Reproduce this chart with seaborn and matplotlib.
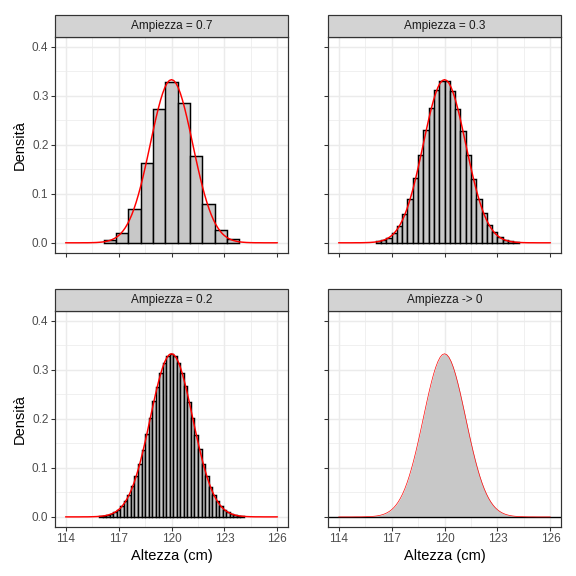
import numpy as np
import matplotlib
matplotlib.use('Agg')
import matplotlib.pyplot as plt
from matplotlib.patches import Rectangle
from matplotlib.ticker import MultipleLocator, FormatStrFormatter
import seaborn as sns

# valori
titles = ['Ampiezza = 0.7', 'Ampiezza = 0.3', 'Ampiezza = 0.2', 'Ampiezza -> 0']
x_ticks = [114, 117, 120, 123, 126]
y_ticks = [0.0, 0.1, 0.2, 0.3, 0.4]

# istogramma, ampiezza 0.7 (centri da 116.5)
w07 = 0.7
first07 = 116.5
h07 = [0.0055, 0.020, 0.068, 0.163, 0.273, 0.328, 0.284, 0.177, 0.080, 0.027, 0.007]

# ampiezza 0.3 (centri da 116.25)
w03 = 0.3
first03 = 116.25
h03 = [0.003, 0.005, 0.010, 0.020, 0.035, 0.058, 0.090, 0.132, 0.178, 0.229, 0.275,
       0.311, 0.330, 0.330, 0.310, 0.273, 0.227, 0.178, 0.131, 0.090, 0.060, 0.037,
       0.022, 0.012, 0.005, 0.003, 0.001]

# ampiezza 0.2 (centri da 116.0)
w02 = 0.2
first02 = 116.0
h02 = [0.0014, 0.0021, 0.0038, 0.0061, 0.0094, 0.0148, 0.0216, 0.0321, 0.0446, 0.0624,
       0.0825, 0.1085, 0.1365, 0.1685, 0.2015, 0.2355, 0.2655, 0.2935, 0.3135, 0.3285,
       0.3315, 0.3280, 0.3145, 0.2925, 0.2665, 0.2345, 0.2025, 0.1675, 0.1375, 0.1075,
       0.0835, 0.0615, 0.0455, 0.0315, 0.0222, 0.0144, 0.0096, 0.0059, 0.0038, 0.0021,
       0.0012]

# curva di densita': passo 0.25 sulle code, 0.125 tra 116 e 124
curve_x = np.concatenate([np.linspace(114, 115.75, 8),
                          np.linspace(116, 124, 65),
                          np.linspace(124.25, 126, 8)])
curve_y = [0.0, 0.0, 0.0, 0.0, 0.0001, 0.0001, 0.0003, 0.0006,
           0.0013, 0.0018, 0.0025, 0.0035, 0.0047, 0.0064, 0.0085, 0.0112, 0.0146, 0.0188,
           0.0241, 0.0304, 0.0380, 0.0469, 0.0573, 0.0693, 0.0829, 0.0981, 0.1148, 0.1329,
           0.1522, 0.1724, 0.1932, 0.2142, 0.2349, 0.2549, 0.2734, 0.2903, 0.3048, 0.3166,
           0.3253, 0.3307,
           0.3324,
           0.3307, 0.3253, 0.3166, 0.3048, 0.2903, 0.2734, 0.2549, 0.2349, 0.2142, 0.1932,
           0.1724, 0.1522, 0.1329, 0.1148, 0.0981, 0.0829, 0.0693, 0.0573, 0.0469, 0.0380,
           0.0304, 0.0241, 0.0188, 0.0146, 0.0112, 0.0085, 0.0064, 0.0047, 0.0035, 0.0025,
           0.0018, 0.0013,
           0.0006, 0.0003, 0.0001, 0.0001, 0.0, 0.0, 0.0, 0.0]

hists = [(w07, first07, h07), (w03, first03, h03), (w02, first02, h02)]

sns.set_style('white')
plt.rcParams['font.family'] = ['Liberation Sans', 'DejaVu Sans']

fill_col = '#C8C8C8'
fig, axes = plt.subplots(2, 2, figsize=(6, 6), dpi=96, sharex=True, sharey=True)
fig.subplots_adjust(left=0.0955, right=0.974, bottom=0.0856, top=0.9363,
                    wspace=0.1717, hspace=0.2694)
axs = axes.flatten()

for i, ax in enumerate(axs):
    ax.set_axisbelow(True)
    if i < 3:
        w, first, h = hists[i]
        centers = np.round(first + w * np.arange(len(h)), 3)
        lo = centers[0] - w / 2
        hi = centers[-1] + w / 2
        sns.histplot(x=centers, weights=h, bins=len(h), binrange=(lo, hi), ax=ax,
                     color=fill_col, edgecolor='black', linewidth=1.1, alpha=1)
        sns.lineplot(x=curve_x, y=curve_y, ax=ax, color='red', linewidth=1.1, sort=False)
    else:
        ax.fill_between(curve_x, curve_y, color=fill_col, linewidth=0)
        ax.axhline(0, color='black', linewidth=1.0)
        sns.lineplot(x=curve_x, y=curve_y, ax=ax, color='red', linewidth=0.5, sort=False)

    ax.set_xlim(113.4, 126.6)
    ax.set_ylim(-0.02, 0.42)
    ax.set_xticks(x_ticks)
    ax.set_yticks(y_ticks)
    ax.xaxis.set_minor_locator(MultipleLocator(1.5))
    ax.yaxis.set_minor_locator(MultipleLocator(0.05))
    ax.yaxis.set_major_formatter(FormatStrFormatter('%.1f'))
    ax.grid(which='major', color='#EBEBEB', linewidth=1.07)
    ax.grid(which='minor', color='#EBEBEB', linewidth=0.53)
    ax.tick_params(which='major', length=2.75, width=0.8, color='#333333',
                   labelsize=8.8, labelcolor='#4D4D4D', pad=2.2, direction='out',
                   bottom=True, left=True)
    ax.tick_params(which='minor', length=0)
    for sp in ax.spines.values():
        sp.set_color('#333333')
        sp.set_linewidth(0.9)
    ax.set_xlabel('')
    ax.set_ylabel('')

    # striscia del facet
    pos = ax.get_position()
    sh = 22 / 576
    fig.patches.append(Rectangle((pos.x0, pos.y1), pos.width, sh, transform=fig.transFigure,
                                 facecolor='#D3D3D3', edgecolor='#333333', linewidth=0.9))
    fig.text(pos.x0 + pos.width / 2, pos.y1 + sh / 2, titles[i], ha='center', va='center',
             fontsize=8.8, color='#1A1A1A')

for ax in axes[:, 0]:
    ax.set_ylabel('Densità', fontsize=11, color='black', labelpad=4)
for ax in axes[1, :]:
    ax.set_xlabel('Altezza (cm)', fontsize=11, color='black', labelpad=3)

fig.savefig('out.png', dpi=96, facecolor='white')
